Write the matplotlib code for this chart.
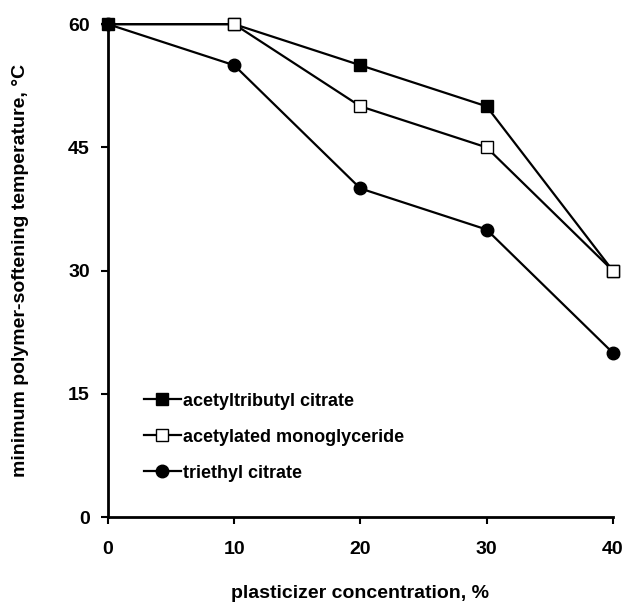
import matplotlib
matplotlib.use("Agg")
import matplotlib.pyplot as plt

plt.rcParams['font.family'] = ['Liberation Sans', 'DejaVu Sans']
plt.rcParams['font.weight'] = 'bold'

conc = [0, 10, 20, 30, 40]
atbc = [60, 60, 55, 50, 30]
amg = [60, 60, 50, 45, 30]
tec = [60, 55, 40, 35, 20]
xticks = [0, 10, 20, 30, 40]
yticks = [0, 15, 30, 45, 60]

fig = plt.figure(figsize=(6.24, 6.04), dpi=100)
ax = fig.add_axes([0.173, 0.144, 0.809, 0.816])

ax.plot(conc, tec, color='black', lw=1.6, marker='o', ms=9,
        mfc='black', mec='black', label='triethyl citrate', clip_on=False, zorder=3)
ax.plot(conc, atbc, color='black', lw=1.6, marker='s', ms=8.5,
        mfc='black', mec='black', label='acetyltributyl citrate', clip_on=False, zorder=4)
ax.plot(conc, amg, color='black', lw=1.6, marker='s', ms=8.5, markevery=slice(1, None),
        mfc='white', mec='black', mew=1.0, label='acetylated monoglyceride', clip_on=False, zorder=5)

ax.set_xlim(0, 40)
ax.set_ylim(0, 60)
ax.set_xticks(xticks)
ax.set_yticks(yticks)
ax.spines['top'].set_visible(False)
ax.spines['right'].set_visible(False)
ax.spines['left'].set_linewidth(2)
ax.spines['bottom'].set_linewidth(2)
ax.tick_params(axis='both', direction='out', length=5, width=1.5, labelsize=14)
ax.tick_params(axis='x', pad=12)
ax.tick_params(axis='y', pad=8)
for lbl in ax.get_xticklabels() + ax.get_yticklabels():
    lbl.set_fontweight('bold')

ax.set_xlabel('plasticizer concentration, %', fontsize=14, fontweight='bold', labelpad=20)
ax.set_ylabel('minimum polymer-softening temperature, °C', fontsize=14, fontweight='bold', labelpad=28)

h, l = ax.get_legend_handles_labels()
order = [1, 2, 0]
leg = ax.legend([h[i] for i in order], [l[i] for i in order], loc='upper left',
                bbox_to_anchor=(0.04, 0.285), frameon=False, fontsize=13,
                handlelength=2.0, handletextpad=0.15, labelspacing=1.05, markerscale=1.0)
for t in leg.get_texts():
    t.set_fontweight('bold')

fig.savefig('out.png', dpi=100)
